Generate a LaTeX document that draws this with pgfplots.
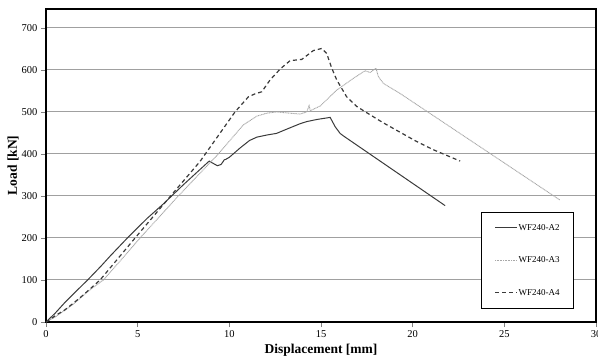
\documentclass[border=0pt]{standalone}
\usepackage{pgfplots}
\pgfplotsset{compat=1.18}
\usepackage{fontspec}
\setmainfont{Liberation Serif}
\pgfplotsset{/pgfplots/legend image code/.code={\draw[#1] (0bp,0bp) -- (22bp,0bp);}}
\definecolor{darkline}{HTML}{3A3A3A}
\definecolor{lightline}{HTML}{A8A8A8}
\definecolor{gridgray}{HTML}{A0A0A0}
\definecolor{tickgray}{HTML}{808080}

\pgfplotstableread{
x y
0 0
0.5 21
1 45
1.5 67
2.27 100
3 133
3.5 157
4.44 200
5.5 246
6.4 281
7.5 327
8.9 383
9.1 378
9.35 372
9.55 375
9.68 383
9.72 386
9.8 387
10 392
10.58 414
11.1 432
11.5 440
12.04 445
12.58 449
13.13 459
13.86 472
14.22 477
14.77 482
15.5 487
15.77 465
16.04 449
16.22 443
21.77 277
}\tabA

\pgfplotstableread{
x y
0 0
0.5 12
1 27
1.5 43
2 62
2.5 80
3.13 100
4 143
5.13 200
7.22 300
9.4 400
10.76 469
11.5 490
12.04 497
12.58 500
13.31 497
13.86 495
14.22 500
14.35 515
14.42 503
14.95 514
15.86 552
16.77 580
17.4 598
17.68 594
18.0 604
18.13 584
18.4 568
19.31 544
28.04 290
}\tabB

\pgfplotstableread{
x y
0 0
0.58 17
1 28
1.5 45
2 63
2.95 100
4.86 200
6.76 298
8.4 382
10.31 500
11.04 536
11.4 543
11.77 548
12.22 576
12.77 602
13.31 622
13.95 625
14.58 646
15.04 651
15.31 639
15.59 604
15.86 576
16.4 536
16.95 513
17.5 498
18.4 474
19.3 452
20.2 430
21.13 410
22.59 383
}\tabC

\begin{document}
\begin{tikzpicture}
\begin{axis}[name=ax, scale only axis, width=550bp, height=313bp,
  xmin=0, xmax=30, ymin=0, ymax=745,
  xtick={0,5,...,30}, ytick={0,100,...,700},
  ymajorgrids, major grid style={gridgray, line width=1bp},
  axis line style={black, line width=1.5bp},
  tick align=outside, xtick pos=bottom, ytick pos=left,
  major tick length=5bp, tick style={tickgray, line width=0.8bp},
  /pgf/number format/assume math mode=true,
  ticklabel style={font=\fontsize{10.5bp}{12bp}\selectfont},
  every axis x label/.style={at={(axis description cs:0.5,-0.0895)}, anchor=center},
  every axis y label/.style={at={(axis description cs:-0.06,0.5)}, anchor=center, rotate=90},
  label style={font=\fontsize{13.5bp}{15bp}\selectfont\bfseries},
  xlabel={Displacement [mm]}, ylabel={Load [kN]},
  legend cell align=left,
  legend style={at={(axis description cs:0.96,0.0415)}, anchor=south east,
    draw=black, line width=0.8bp, font=\fontsize{9bp}{11bp}\selectfont,
    inner xsep=13bp, inner ysep=11bp, row sep=23bp,
    nodes={inner sep=1bp}},
]
\addplot[darkline, line width=1bp, no markers] table {\tabA};
\addlegendentry{WF240-A2}
\addplot[lightline, line width=0.9bp, dash pattern=on 1bp off 0.6bp, no markers] table {\tabB};
\addlegendentry{WF240-A3}
\addplot[darkline, line width=1.2bp, dash pattern=on 4bp off 3bp, no markers] table {\tabC};
\addlegendentry{WF240-A4}
\end{axis}
\pgfresetboundingbox
\path[use as bounding box] ([xshift=-46bp,yshift=-36bp]ax.south west) rectangle ([xshift=2bp,yshift=9bp]ax.north east);
\end{tikzpicture}
\end{document}
